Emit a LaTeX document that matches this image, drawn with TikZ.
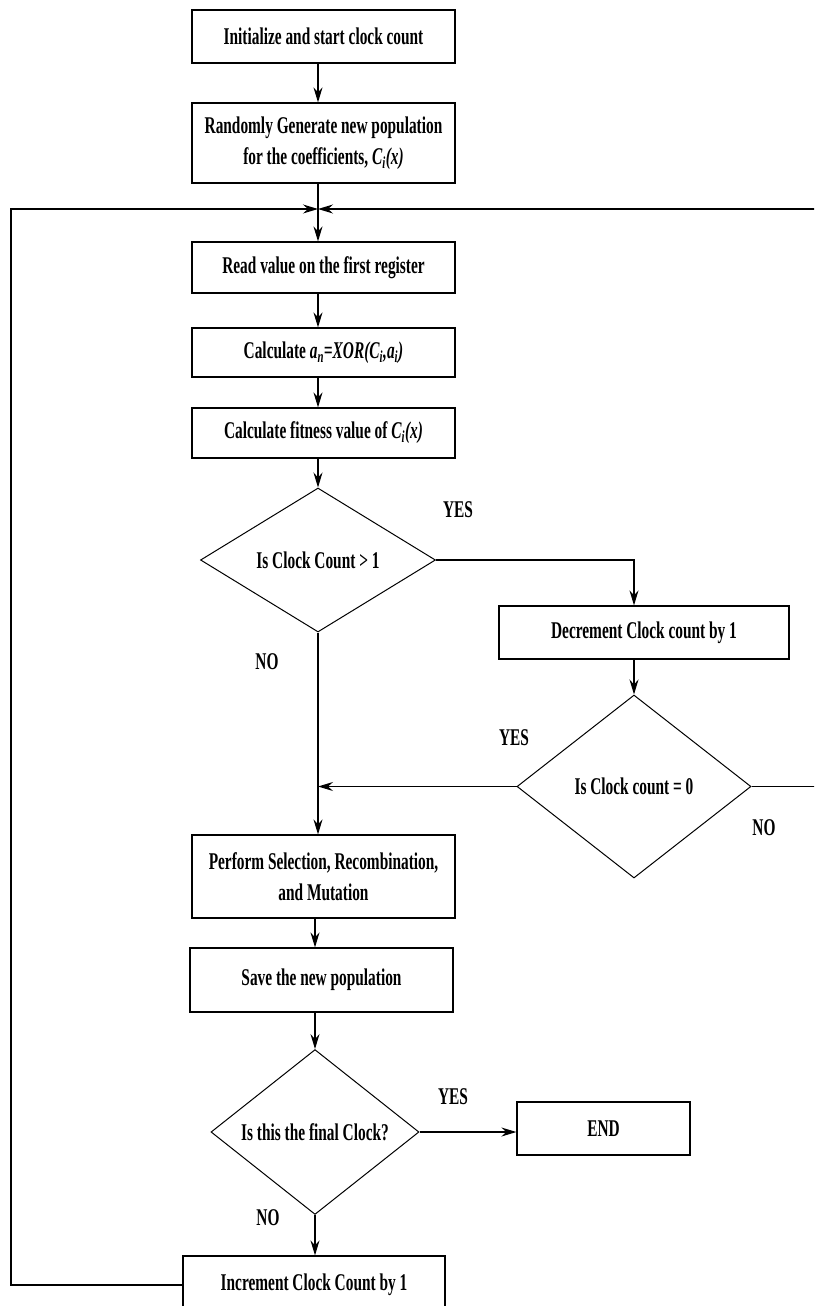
\documentclass[tikz,border=0pt]{standalone}
\usepackage{fontspec}
\setmainfont{Liberation Serif}[FakeStretch=0.64]
\usetikzlibrary{shapes.geometric,arrows.meta}
\newcommand{\isub}[1]{\textsubscript{\itshape #1}}
\begin{document}
\begin{tikzpicture}[x=1pt,y=-1pt,
  txt/.style={font=\bfseries\fontsize{24}{31}\selectfont},
  box/.style={txt, draw, line width=1.2pt, rectangle, inner sep=0pt, align=center},
  dia/.style={txt, draw, line width=1pt, diamond, inner sep=0pt},
  lbl/.style={txt, inner sep=0pt},
  arr/.style={-{Stealth[length=15pt,width=9pt,inset=5pt]}, line width=1.2pt},
  ln/.style={line width=1.2pt}]
\useasboundingbox (0,0) rectangle (814,1306);
\clip (0,0) rectangle (814,1306);
\fill[white] (0,0) rectangle (814,1306);

% boxes
\node[box, minimum width=263pt, minimum height=53pt] (b1) at (323.5,36.5) {Initialize and start clock count};
\node[box, minimum width=263pt, minimum height=80pt] (b2) at (323.5,143) {Randomly Generate new population\\for the coefficients, {\itshape C}\isub{i}{\itshape (x)}};
\node[box, minimum width=263pt, minimum height=51pt] (b3) at (323.5,267.5) {Read value on the first register};
\node[box, minimum width=263pt, minimum height=49pt] (b4) at (323.5,352.5) {Calculate {\itshape a}\isub{n}{\itshape =XOR(C}\isub{i}{\itshape ,a}\isub{i}{\itshape )}};
\node[box, minimum width=263pt, minimum height=50pt] (b5) at (323.5,433) {Calculate fitness value of {\itshape C}\isub{i}{\itshape (x)}};
\node[dia, minimum width=235pt, minimum height=144pt] (d1) at (318,560) {Is Clock Count > 1};
\node[box, minimum width=290pt, minimum height=53pt] (dec) at (644,632.5) {Decrement Clock count by 1};
\node[dia, minimum width=234pt, minimum height=183pt] (d2) at (634,786.5) {Is Clock count = 0};
\node[box, minimum width=263pt, minimum height=83pt] (b6) at (323.5,876.5) {Perform Selection, Recombination,\\and Mutation};
\node[box, minimum width=263pt, minimum height=64pt] (b7) at (321.5,980) {Save the new population};
\node[dia, minimum width=208pt, minimum height=150pt] (d3) at (315,1132) {Is this the final Clock?};
\node[box, minimum width=173pt, minimum height=53pt] (endb) at (603.5,1128.5) {END};
\node[box, minimum width=262pt, minimum height=58pt] (inc) at (314,1285) {Increment Clock Count by 1};

% labels
\node[lbl] (yes1) at (458,510) {YES};
\node[lbl] (no1) at (267,662) {NO};
\node[lbl] (yes2) at (514,738) {YES};
\node[lbl] (no2) at (764,828) {NO};
\node[lbl] (yes3) at (453,1097) {YES};
\node[lbl] (no3) at (268,1218) {NO};

% helper coordinates
\coordinate (ax) at (318,0);
\coordinate (j) at (318,209);
\coordinate (lx) at (11,0);
\coordinate (rx) at (830,0);

% connectors
\draw[arr] (b1.south -| ax) -- (b2.north -| ax);
\draw[ln] (b2.south -| ax) -- (j);
\draw[arr] (j) -- (b3.north -| ax);
\draw[arr] (b3.south -| ax) -- (b4.north -| ax);
\draw[arr] (b4.south -| ax) -- (b5.north -| ax);
\draw[arr] (b5.south -| ax) -- (d1.north);
\draw[arr] (d1.east) -| (dec.north -| d2.north);
\draw[arr] (dec.south -| d2.north) -- (d2.north);
\draw[arr] (d2.west) -- (d2.west -| d1.south);
\draw[arr] (d1.south) -- (b6.north -| d1.south);
\draw[arr] (b6.south -| d3.north) -- (b7.north -| d3.north);
\draw[arr] (b7.south -| d3.north) -- (d3.north);
\draw[arr] (d3.east) -- (d3.east -| endb.west);
\draw[arr] (d3.south) -- (inc.north -| d3.south);
\draw[arr] (d2.east) -- (d2.east -| rx) |- (j);
\draw[arr] (inc.west) -- (inc.west -| lx) |- (j);
\end{tikzpicture}
\end{document}
